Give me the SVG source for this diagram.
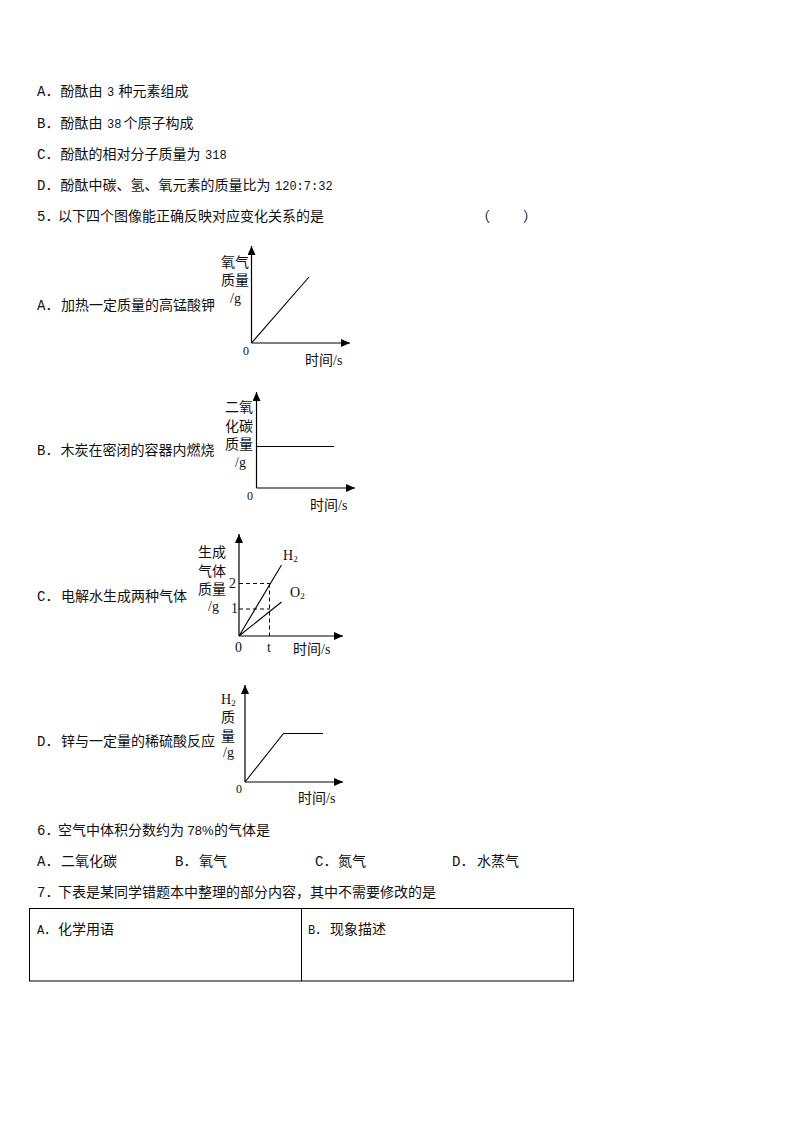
<svg xmlns="http://www.w3.org/2000/svg" width="794" height="1123" viewBox="0 0 794 1123">
<defs>
<marker id="arrow" markerUnits="userSpaceOnUse" markerWidth="10" markerHeight="10" refX="9" refY="4" orient="auto"><path d="M0 0L9 4L0 8Z" fill="#000"/></marker>
</defs>
<style>
text{fill:#111;font-family:"Noto Sans CJK SC","Liberation Sans",sans-serif;font-size:14px}
.m{font-family:"Liberation Mono","Noto Sans CJK SC",monospace;font-size:12px}
.o{font-family:"Liberation Mono","Noto Sans CJK SC",monospace;font-size:14px}
.p{font-family:"Liberation Sans",sans-serif;font-size:13px}
.s{font-family:"Liberation Serif","Noto Sans CJK SC",serif;font-size:14px}
.z{font-family:"Liberation Serif",serif;font-size:12px}
.sub{font-size:9px}
.ax{fill:none;stroke:#000;stroke-width:1.2;marker-end:url(#arrow)}
.ln{fill:none;stroke:#000;stroke-width:1.1}
.d{fill:none;stroke:#000;stroke-width:1;stroke-dasharray:4 3}
</style>
<rect width="794" height="1123" fill="#fff"/>
<g id="q4-options">
<text class="o" x="37" y="96">A．</text><text x="60.5" y="96">酚酞由</text><text class="m" x="107" y="96">3</text><text x="118.5" y="96">种元素组成</text>
<text class="o" x="37" y="128">B．</text><text x="60.5" y="128">酚酞由</text><text class="m" x="107" y="128">38</text><text x="123.5" y="128">个原子构成</text>
<text class="o" x="37" y="159">C．</text><text x="60.5" y="159">酚酞的相对分子质量为</text><text class="m" x="205" y="159">318</text>
<text class="o" x="37" y="190">D．</text><text x="60.5" y="190">酚酞中碳、氢、氧元素的质量比为</text><text class="m" x="275" y="190">120:7:32</text>
</g>
<g id="q5-stem">
<text class="o" x="37" y="221">5．</text><text x="58" y="221">以下四个图像能正确反映对应变化关系的是</text>
<text x="476" y="221">（</text><text x="523" y="221">）</text>
</g>
<g id="chart-a">
<text class="o" x="37" y="310">A．</text><text x="61" y="310">加热一定质量的高锰酸钾</text>
<path class="ax" d="M251.5 343V246"/><path class="ax" d="M251.5 343H350"/>
<path class="ln" d="M251.5 343L309 277"/>
<text x="221" y="267">氧气</text><text x="221" y="285">质量</text><text class="s" x="230" y="303">/g</text>
<text class="z" x="243" y="355">0</text><text x="305" y="365">时间<tspan class="s">/s</tspan></text>
</g>
<g id="chart-b">
<text class="o" x="37" y="455">B．</text><text x="60.5" y="455">木炭在密闭的容器内燃烧</text>
<path class="ax" d="M256.5 488V392"/><path class="ax" d="M256.5 488H355"/>
<path class="ln" d="M256.5 446.500H334"/>
<text x="225" y="412">二氧</text><text x="225" y="430.500">化碳</text><text x="225" y="449">质量</text><text class="s" x="235" y="467">/g</text>
<text class="z" x="247" y="500">0</text><text x="310" y="510">时间<tspan class="s">/s</tspan></text>
</g>
<g id="chart-c">
<text class="o" x="37" y="601">C．</text><text x="61" y="601">电解水生成两种气体</text>
<path class="ax" d="M239 636V534"/><path class="ax" d="M239 636H343"/>
<path class="ln" d="M239 636L281.500 565M239 636L281.500 602"/>
<path class="d" d="M239 583.500H270M239 609H270M269.500 583.500V636"/>
<text x="198" y="557">生成</text><text x="198" y="575.500">气体</text><text x="198" y="594">质量</text><text class="s" x="208" y="611">/g</text>
<text class="s" x="229" y="588">2</text><text class="s" x="231" y="613">1</text>
<text class="s" x="235" y="652">0</text><text class="s" x="267" y="652">t</text>
<text x="293" y="654">时间<tspan class="s">/s</tspan></text>
<text class="s" x="283" y="560">H<tspan class="sub" dy="2">2</tspan></text>
<text class="s" x="290" y="597">O<tspan class="sub" dy="2">2</tspan></text>
</g>
<g id="chart-d">
<text class="o" x="37" y="746">D．</text><text x="61" y="746">锌与一定量的稀硫酸反应</text>
<path class="ax" d="M245 782V685"/><path class="ax" d="M245 782H343"/>
<path class="ln" d="M245 782L283.500 733.500H323"/>
<text class="s" x="221" y="704">H<tspan class="sub" dy="2">2</tspan></text>
<text x="221" y="722">质</text><text x="221" y="741">量</text><text class="s" x="223" y="757">/g</text>
<text class="z" x="236" y="793">0</text><text x="298" y="803">时间<tspan class="s">/s</tspan></text>
</g>
<g id="q6">
<text class="o" x="37" y="835">6．</text><text x="58" y="835">空气中体积分数约为</text><text class="p" x="187.500" y="835">78%</text><text x="214" y="835">的气体是</text>
<text class="o" x="37" y="866">A．</text><text x="61" y="866">二氧化碳</text>
<text class="o" x="175" y="866">B．</text><text x="199" y="866">氧气</text>
<text class="o" x="315" y="866">C．</text><text x="338" y="866">氮气</text>
<text class="o" x="452" y="866">D．</text><text x="477" y="866">水蒸气</text>
</g>
<g id="q7">
<text class="o" x="37" y="897">7．</text><text x="58" y="897">下表是某同学错题本中整理的部分内容，其中不需要修改的是</text>
<rect x="29.500" y="908.500" width="544" height="72.500" fill="none" stroke="#000" stroke-width="1"/>
<path d="M301.500 908.500V981" fill="none" stroke="#000" stroke-width="1"/>
<text class="m" x="37" y="934">A．</text><text x="58" y="934">化学用语</text>
<text class="m" x="308" y="934">B．</text><text x="330" y="934">现象描述</text>
</g>
</svg>
